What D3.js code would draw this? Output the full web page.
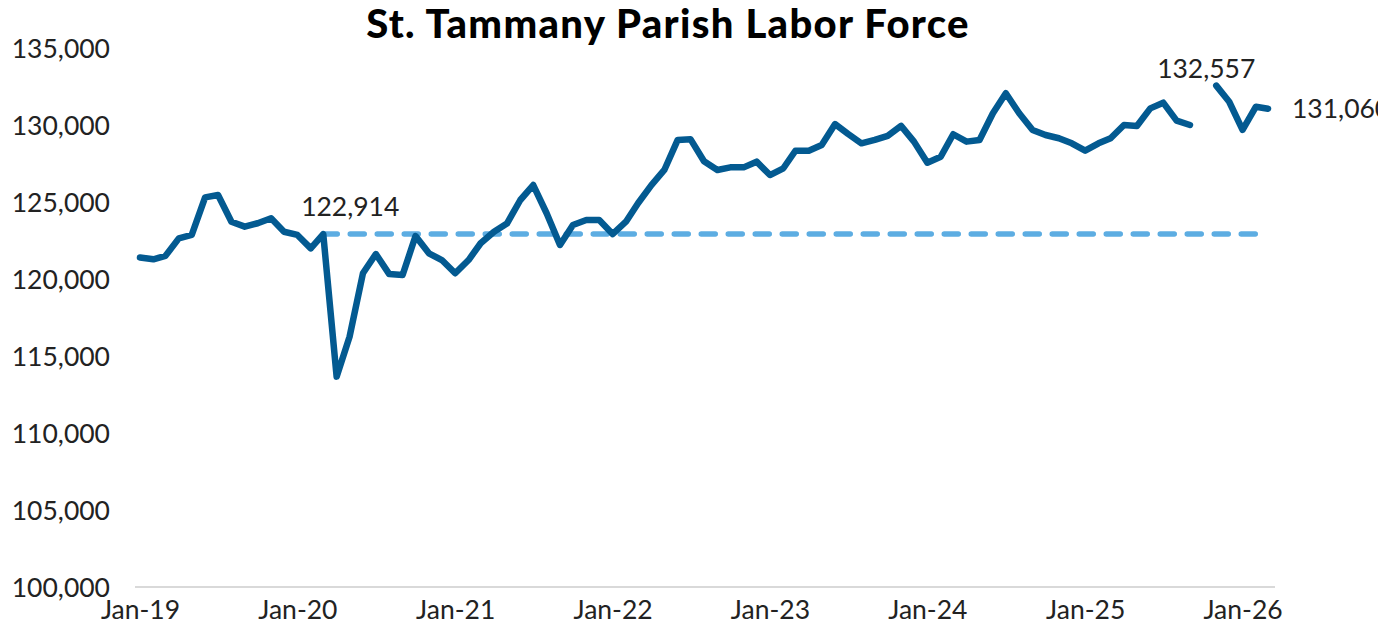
<!DOCTYPE html>
<html>
<head>
<meta charset="utf-8">
<script src="https://cdn.jsdelivr.net/npm/d3@7"></script>
<style>
  body { margin: 0; background: #fff; }
  svg text { font-family: Lato, "Open Sans", sans-serif; }
</style>
</head>
<body>
<svg id="chart" width="1396" height="634"></svg>
<script>
// monthly labor force, Jan-19 .. Mar-26 (Oct-25 not published)
var values2019 = [121400,121280,121500,122640,122860,125300,125450,123720,123400,123620,123940,123070]
var values2020 = [122860,121990,122914,113660,116250,120370,121620,120320,120260,122790,121670,121230]
var values2021 = [120370,121230,122320,123070,123600,125130,126100,124270,122210,123510,123830,123830]
var values2022 = [122920,123720,124920,126100,127080,129030,129070,127650,127080,127250,127250,127620]
var values2023 = [126750,127190,128330,128330,128700,130060,129420,128810,129030,129290,129940,128920]
var values2024 = [127550,127940,129400,128920,129030,130760,132060,130760,129680,129350,129140,128810]
var values2025 = [128330,128810,129140,130000,129940,131080,131450,130280,130000,null,132557,131510]
var values2026 = [129680,131190,131060]

var yTicks = [100000,105000,110000,115000,120000,125000,130000,135000]
var xTickYears = [2019,2020,2021,2022,2023,2024,2025,2026]

var preCovidPeak = {date: new Date(2020,2,1), value: 122914}
var title = "St. Tammany Parish Labor Force"

var allValues = [].concat(values2019,values2020,values2021,values2022,values2023,values2024,values2025,values2026)
var months = d3.timeMonth.range(new Date(2019,0,1), new Date(2026,3,1))
var data = months.map(function(m,i){ return {date:m, value:allValues[i]} })
var last = data[data.length-1]
var high = data[82]

var svg = d3.select("#chart")

var xScale = d3.scaleTime()
    .domain([months[0], months[months.length-1]])
    .range([140, 1268])
var yScale = d3.scaleLinear()
    .domain([100000,135000])
    .range([587, 48])

var fmt = d3.format(",")
var labelSize = 26.5

// baseline
svg.append("line")
    .attr("x1", xScale.range()[0]-5)
    .attr("x2", xScale.range()[1]+7)
    .attr("y1", yScale(100000))
    .attr("y2", yScale(100000))
    .attr("stroke","#d9d9d9")
    .attr("stroke-width",2)

var yAxis = svg.append("g")
    .attr("transform","translate(110,0)")
    .call(d3.axisLeft(yScale).tickValues(yTicks).tickSize(0).tickPadding(0).tickFormat(fmt))
yAxis.select(".domain").remove()
yAxis.selectAll("text")
    .attr("font-size",labelSize)
    .attr("fill","#222")
    .attr("dy","0.35em")
    .style("font-family","Lato, sans-serif")

var xAxis = svg.append("g")
    .attr("transform","translate(0,599)")
    .call(d3.axisBottom(xScale)
        .tickValues(xTickYears.map(function(y){ return new Date(y,0,1) }))
        .tickSize(0).tickPadding(0)
        .tickFormat(d3.timeFormat("%b-%y")))
xAxis.select(".domain").remove()
xAxis.selectAll("text")
    .attr("font-size",labelSize)
    .attr("fill","#222")
    .attr("dy","0.75em")
    .style("font-family","Lato, sans-serif")

// dashed reference at pre-covid level
svg.append("line")
    .attr("x1", xScale(preCovidPeak.date))
    .attr("x2", xScale(last.date))
    .attr("y1", yScale(preCovidPeak.value))
    .attr("y2", yScale(preCovidPeak.value))
    .attr("stroke","#5dade2")
    .attr("stroke-width",5.5)
    .attr("stroke-linecap","round")
    .attr("stroke-dasharray","14,13")

var line = d3.line()
    .defined(function(d){ return d.value != null })
    .x(function(d){ return xScale(d.date) })
    .y(function(d){ return yScale(d.value) })

svg.append("path")
    .datum(data)
    .attr("d", line)
    .attr("fill","none")
    .attr("stroke","#035a91")
    .attr("stroke-width",6.5)
    .attr("stroke-linejoin","round")
    .attr("stroke-linecap","round")

// labels
svg.append("clipPath").attr("id","clip")
    .append("rect").attr("x",0).attr("y",0).attr("width",1378).attr("height",634)
var labels = svg.append("g").attr("clip-path","url(#clip)")

labels.append("text")
    .attr("x", xScale(preCovidPeak.date)+27)
    .attr("y", yScale(preCovidPeak.value)-18)
    .attr("text-anchor","middle")
    .attr("font-size",labelSize)
    .attr("fill","#222")
    .text(fmt(preCovidPeak.value))

labels.append("text")
    .attr("x", xScale(high.date)-10)
    .attr("y", yScale(high.value)-8)
    .attr("text-anchor","middle")
    .attr("font-size",labelSize)
    .attr("fill","#222")
    .text(fmt(high.value))

labels.append("text")
    .attr("x", xScale(last.date)+24)
    .attr("y", yScale(last.value))
    .attr("dy","0.35em")
    .attr("font-size",labelSize)
    .attr("fill","#222")
    .text(fmt(last.value))

svg.append("text")
    .attr("x",668)
    .attr("y",38)
    .attr("text-anchor","middle")
    .attr("font-size",40)
    .attr("font-weight",900)
    .attr("letter-spacing",1.3)
    .attr("fill","#000")
    .text(title)
</script>
</body>
</html>
